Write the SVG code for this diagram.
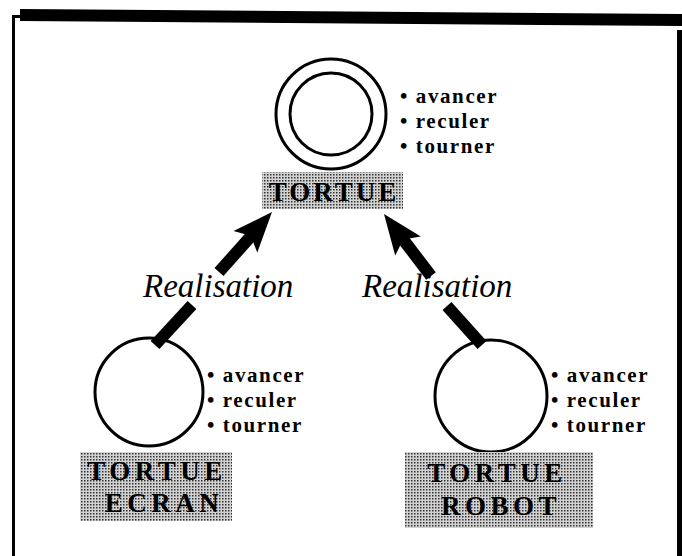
<svg xmlns="http://www.w3.org/2000/svg" width="682" height="556" viewBox="0 0 682 556">
<style>
.frame{fill:#000}
.node circle{fill:none;stroke:#000;stroke-width:3}
.ops{font-family:"Liberation Serif","Times New Roman",serif;font-size:21px;font-weight:bold;letter-spacing:1.6px;fill:#000}
.lbl{font-family:"Liberation Serif","Times New Roman",serif;font-size:27px;font-weight:bold;fill:#000;text-anchor:middle;letter-spacing:3px}
.lbl2{letter-spacing:4.5px}
.box{fill:url(#dots)}
.rel{font-family:"Liberation Serif","Times New Roman",serif;font-size:33px;font-style:italic;fill:#000}
.shaft{stroke:#000;stroke-width:12;fill:none}
.head{fill:#000}
</style>
<defs>
<pattern id="dots" width="3" height="3" patternUnits="userSpaceOnUse">
<rect width="3" height="3" fill="#d2d2d2"/>
<rect width="1.5" height="1.5" fill="#333"/>
</pattern>
</defs>
<g id="frame">
<polygon class="frame" points="20,9 682,14 682,26 20,21"/>
<rect class="frame" x="12" y="15" width="10" height="3"/>
<rect class="frame" x="12" y="15" width="3" height="541"/>
<rect class="frame" x="677" y="30" width="5" height="526"/>
</g>
<g id="tortue" class="node">
<circle cx="331" cy="114" r="55"/>
<circle cx="331" cy="114" r="41"/>
<rect class="box" x="262" y="172" width="141" height="37"/>
<text class="lbl" x="334" y="201">TORTUE</text>
<text class="ops" x="400" y="103">• avancer</text>
<text class="ops" x="400" y="128">• reculer</text>
<text class="ops" x="400" y="153">• tourner</text>
</g>
<g id="tortue-ecran" class="node">
<circle cx="149" cy="392" r="54"/>
<rect class="box" x="80" y="452" width="152" height="69"/>
<text class="lbl lbl2" x="157" y="480">TORTUE</text>
<text class="lbl lbl2" x="164" y="512">ECRAN</text>
<text class="ops" x="207" y="382">• avancer</text>
<text class="ops" x="207" y="407">• reculer</text>
<text class="ops" x="207" y="432">• tourner</text>
</g>
<g id="tortue-robot" class="node">
<circle cx="491" cy="396" r="56"/>
<rect class="box" x="405" y="452" width="188" height="76"/>
<text class="lbl lbl2" x="497" y="482">TORTUE</text>
<text class="lbl lbl2" x="501" y="515">ROBOT</text>
<text class="ops" x="551" y="382">• avancer</text>
<text class="ops" x="551" y="407">• reculer</text>
<text class="ops" x="551" y="432">• tourner</text>
</g>
<g id="connectors">
<line class="shaft" x1="155" y1="345" x2="192" y2="305"/>
<line class="shaft" x1="219" y1="272" x2="252" y2="235"/>
<polygon class="head" points="272,212 257.3,252.5 250.7,235.8 233.5,231.1"/>
<text class="rel" x="143" y="297">Realisation</text>
<line class="shaft" x1="482" y1="345" x2="447" y2="306"/>
<line class="shaft" x1="431" y1="276" x2="402" y2="238"/>
<polygon class="head" points="384,214 420.8,236.4 403.2,239.6 395.2,255.6"/>
<text class="rel" x="362" y="297">Realisation</text>
</g>
</svg>
